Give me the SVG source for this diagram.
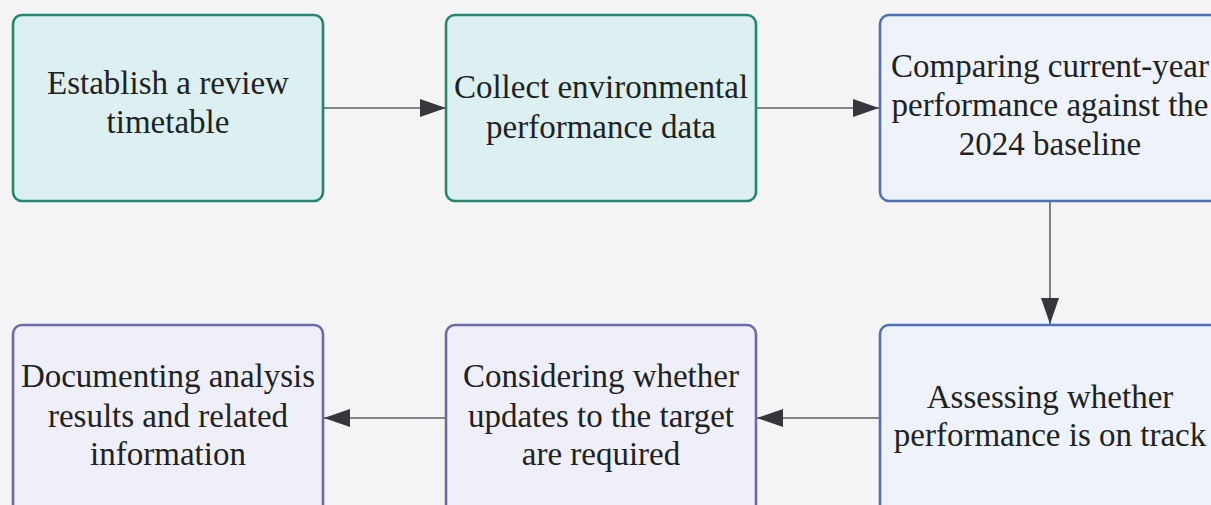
<svg xmlns="http://www.w3.org/2000/svg" width="1211" height="505" viewBox="0 0 1211 505">
<style>
.bg{fill:#f4f4f4}
.n rect{stroke-width:2.6}
.teal rect{fill:#dcf0f1;stroke:#23866f}
.blue rect{fill:#eef2fa;stroke:#4e6fbc}
.purple rect{fill:#eeeff8;stroke:#6b69a9}
text{font-family:"Liberation Serif","Times New Roman",serif;font-size:33px;fill:#1e2222;text-anchor:middle}
.c path{stroke:#5f6164;stroke-width:1.6;fill:none}
</style>
<defs>
<marker id="ah" viewBox="0 0 26 18" refX="26" refY="9" markerWidth="26" markerHeight="18" markerUnits="userSpaceOnUse" orient="auto">
<path d="M0,0 L26,9 L0,18 Z" fill="#35373d"/>
</marker>
</defs>
<rect class="bg" x="0" y="0" width="1211" height="505"/>
<g class="c" id="connectors">
<path d="M324,108 L446,108" marker-end="url(#ah)"/>
<path d="M757,108 L879,108" marker-end="url(#ah)"/>
<path d="M1050,202 L1050,324" marker-end="url(#ah)"/>
<path d="M880,418 L757,418" marker-end="url(#ah)"/>
<path d="M446,418 L324,418" marker-end="url(#ah)"/>
</g>
<g class="n teal" id="n1">
<rect x="13" y="15" width="310" height="186" rx="9"/>
<text x="168" y="94">Establish a review</text>
<text x="168" y="133">timetable</text>
</g>
<g class="n teal" id="n2">
<rect x="446" y="15" width="310" height="186" rx="9"/>
<text x="601" y="98">Collect environmental</text>
<text x="601" y="138">performance data</text>
</g>
<g class="n blue" id="n3">
<rect x="880" y="15" width="340" height="186" rx="9"/>
<text x="1050" y="77">Comparing current-year</text>
<text x="1050" y="116">performance against the</text>
<text x="1050" y="155">2024 baseline</text>
</g>
<g class="n blue" id="n6">
<rect x="880" y="325" width="340" height="200" rx="9"/>
<text x="1050" y="408">Assessing whether</text>
<text x="1050" y="446">performance is on track</text>
</g>
<g class="n purple" id="n5">
<rect x="446" y="325" width="310" height="200" rx="9"/>
<text x="601" y="387">Considering whether</text>
<text x="601" y="427">updates to the target</text>
<text x="601" y="465">are required</text>
</g>
<g class="n purple" id="n4">
<rect x="13" y="325" width="310" height="200" rx="9"/>
<text x="168" y="387">Documenting analysis</text>
<text x="168" y="427">results and related</text>
<text x="168" y="465">information</text>
</g>
</svg>
